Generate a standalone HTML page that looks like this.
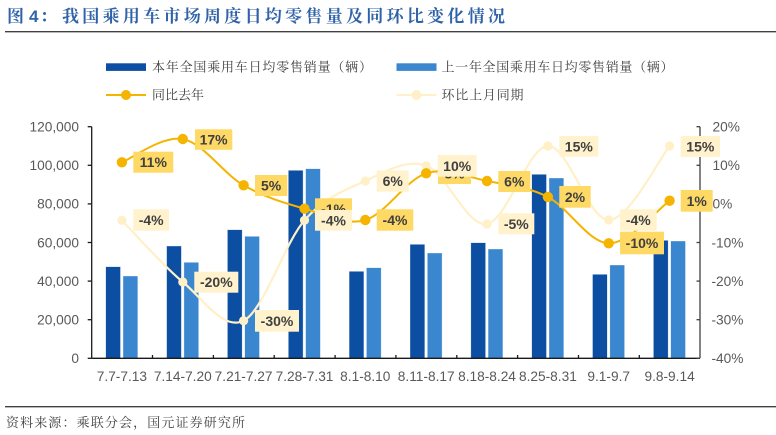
<!DOCTYPE html>
<html><head><meta charset="utf-8"><style>
html,body{margin:0;padding:0;background:#fff;}
svg{display:block;}
.t{font-family:"Liberation Sans",Arial,sans-serif;}
.c{font-family:"Liberation Serif","Noto Serif CJK SC",serif;}
.ax{font-family:"Liberation Sans",Arial,sans-serif;font-size:13.7px;fill:#595959;}
.lb{font-family:"Liberation Sans",Arial,sans-serif;font-size:14px;font-weight:bold;fill:#404040;}
</style></head><body>
<svg width="776" height="435" viewBox="0 0 776 435" xmlns="http://www.w3.org/2000/svg">
<rect width="776" height="435" fill="#fff"/>
<!-- title -->
<text x="7" y="22" class="c" font-size="17" font-weight="bold" fill="#2F62A8">图</text>
<text x="29" y="22" class="t" font-size="17" font-weight="bold" fill="#2F62A8">4</text>
<text x="40" y="22" class="c" font-size="17" font-weight="bold" fill="#2F62A8">：</text>
<text x="62" y="22" class="c" font-size="17" font-weight="bold" fill="#2F62A8" textLength="443" lengthAdjust="spacing">我国乘用车市场周度日均零售量及同环比变化情况</text>
<line x1="5" y1="31.7" x2="776" y2="31.7" stroke="#404040" stroke-width="1.3"/>

<!-- legend -->
<rect x="106" y="63.3" width="40" height="7.6" fill="#0B4EA2"/>
<text x="152" y="71.3" class="c" font-size="13" fill="#404040" textLength="220" lengthAdjust="spacing">本年全国乘用车日均零售销量（辆）</text>
<rect x="396.5" y="63.3" width="40" height="7.6" fill="#3A87CF"/>
<text x="441.5" y="71.3" class="c" font-size="13" fill="#404040" textLength="232" lengthAdjust="spacing">上一年全国乘用车日均零售销量（辆）</text>
<line x1="106" y1="95" x2="146" y2="95" stroke="#F5B400" stroke-width="2"/>
<circle cx="126" cy="95" r="5" fill="#F5B400"/>
<text x="152" y="99.5" class="c" font-size="13" fill="#404040" textLength="52" lengthAdjust="spacing">同比去年</text>
<line x1="396.5" y1="95" x2="436.5" y2="95" stroke="#FFF0C8" stroke-width="2"/>
<circle cx="416.5" cy="95" r="5" fill="#FFF0C8"/>
<text x="441.5" y="99.5" class="c" font-size="13" fill="#404040" textLength="82" lengthAdjust="spacing">环比上月同期</text>

<!-- bars -->
<g stroke="#ffffff" stroke-width="0.6" stroke-opacity="0.6">
<g fill="#0B4EA2">
<rect x="105.7" y="266.7" width="14.8" height="91.6"/>
<rect x="166.6" y="246" width="14.8" height="112.3"/>
<rect x="227.4" y="229.7" width="14.8" height="128.6"/>
<rect x="288.3" y="170.3" width="14.8" height="188"/>
<rect x="349.1" y="271.3" width="14.8" height="87"/>
<rect x="410" y="244.3" width="14.8" height="114"/>
<rect x="470.8" y="242.7" width="14.8" height="115.6"/>
<rect x="531.7" y="174.3" width="14.8" height="184"/>
<rect x="592.5" y="274.3" width="14.8" height="84"/>
<rect x="653.4" y="240.3" width="14.8" height="118"/>
</g>
<g fill="#3A87CF">
<rect x="123" y="276" width="14.8" height="82.3"/>
<rect x="183.9" y="262.3" width="14.8" height="96"/>
<rect x="244.7" y="236.3" width="14.8" height="122"/>
<rect x="305.6" y="168.7" width="14.8" height="189.6"/>
<rect x="366.4" y="267.7" width="14.8" height="90.6"/>
<rect x="427.3" y="253" width="14.8" height="105.3"/>
<rect x="488.1" y="249" width="14.8" height="109.3"/>
<rect x="549" y="178" width="14.8" height="180.3"/>
<rect x="609.8" y="265" width="14.8" height="93.3"/>
<rect x="670.7" y="241" width="14.8" height="117.3"/>
</g>
</g>

<!-- axes -->
<g stroke="#1a1a1a" stroke-width="1.3" fill="none">
<line x1="91.7" y1="126.7" x2="91.7" y2="358.3"/>
<line x1="91.7" y1="358.3" x2="700" y2="358.3"/>
<line x1="87.7" y1="126.7" x2="91.7" y2="126.7"/>
<line x1="87.7" y1="165.3" x2="91.7" y2="165.3"/>
<line x1="87.7" y1="203.9" x2="91.7" y2="203.9"/>
<line x1="87.7" y1="242.5" x2="91.7" y2="242.5"/>
<line x1="87.7" y1="281.1" x2="91.7" y2="281.1"/>
<line x1="87.7" y1="319.7" x2="91.7" y2="319.7"/>
<line x1="87.7" y1="358.3" x2="91.7" y2="358.3"/>
<line x1="152.5" y1="355" x2="152.5" y2="358.3"/>
<line x1="213.4" y1="355" x2="213.4" y2="358.3"/>
<line x1="274.2" y1="355" x2="274.2" y2="358.3"/>
<line x1="335.1" y1="355" x2="335.1" y2="358.3"/>
<line x1="395.9" y1="355" x2="395.9" y2="358.3"/>
<line x1="456.8" y1="355" x2="456.8" y2="358.3"/>
<line x1="517.6" y1="355" x2="517.6" y2="358.3"/>
<line x1="578.5" y1="355" x2="578.5" y2="358.3"/>
<line x1="639.3" y1="355" x2="639.3" y2="358.3"/>
</g>
<g stroke="#404040" stroke-width="1.3" fill="none">
<line x1="700" y1="126.7" x2="700" y2="358.3"/>
<line x1="696.5" y1="126.7" x2="700" y2="126.7"/>
<line x1="696.5" y1="165.3" x2="700" y2="165.3"/>
<line x1="696.5" y1="203.9" x2="700" y2="203.9"/>
<line x1="696.5" y1="242.5" x2="700" y2="242.5"/>
<line x1="696.5" y1="281.1" x2="700" y2="281.1"/>
<line x1="696.5" y1="319.7" x2="700" y2="319.7"/>
<line x1="696.5" y1="358.3" x2="700" y2="358.3"/>
</g>

<!-- left labels -->
<g class="ax" text-anchor="end">
<text x="79" y="131.5">120,000</text>
<text x="79" y="170.1">100,000</text>
<text x="79" y="208.7">80,000</text>
<text x="79" y="247.3">60,000</text>
<text x="79" y="285.9">40,000</text>
<text x="79" y="324.5">20,000</text>
<text x="79" y="363.1">0</text>
</g>
<!-- right labels -->
<g class="ax">
<text x="712.5" y="131.5">20%</text>
<text x="712.5" y="170.1">10%</text>
<text x="712.5" y="208.7">0%</text>
<text x="711.5" y="247.3">-10%</text>
<text x="711.5" y="285.9">-20%</text>
<text x="711.5" y="324.5">-30%</text>
<text x="711.5" y="363.1">-40%</text>
</g>
<!-- category labels -->
<g class="ax" text-anchor="middle">
<text x="121.9" y="381">7.7-7.13</text>
<text x="182.8" y="381">7.14-7.20</text>
<text x="243.6" y="381">7.21-7.27</text>
<text x="304.5" y="381">7.28-7.31</text>
<text x="365.3" y="381">8.1-8.10</text>
<text x="426.2" y="381">8.11-8.17</text>
<text x="487" y="381">8.18-8.24</text>
<text x="547.9" y="381">8.25-8.31</text>
<text x="608.7" y="381">9.1-9.7</text>
<text x="669.6" y="381">9.8-9.14</text>
</g>

<!-- MoM line (cream) -->
<path d="M121.9,220.3 C132,230.6 162.5,265.3 182.8,282 C203.1,298.7 223.3,331 243.6,320.7 C263.9,310.4 284.2,243.6 304.5,220.3 C324.8,197 345,190.1 365.3,181 C385.6,171.9 405.9,158.5 426.2,165.7 C446.5,172.9 466.7,227.3 487,224 C507.3,220.7 527.6,146.7 547.9,146 C568.2,145.3 588.4,220 608.7,220 C629,220 659.5,158.3 669.6,146" fill="none" stroke="#FFF0C8" stroke-width="2.2"/>
<g fill="#FFF0C8">
<circle cx="121.9" cy="220.3" r="4.6"/>
<circle cx="182.8" cy="282" r="4.6"/>
<circle cx="243.6" cy="320.7" r="4.6"/>
<circle cx="304.5" cy="220.3" r="4.6"/>
<circle cx="365.3" cy="181" r="4.6"/>
<circle cx="426.2" cy="165.7" r="4.6"/>
<circle cx="487" cy="224" r="4.6"/>
<circle cx="547.9" cy="146" r="4.6"/>
<circle cx="608.7" cy="220" r="4.6"/>
<circle cx="669.6" cy="146" r="4.6"/>
</g>

<!-- YoY line (gold) -->
<path d="M121.9,162.3 C132,158.4 162.5,135.2 182.8,139 C203.1,142.8 223.3,173.7 243.6,185.3 C263.9,196.9 284.2,202.9 304.5,208.7 C324.8,214.5 345,225.9 365.3,220 C385.6,214.1 405.9,179.8 426.2,173.3 C446.5,166.8 466.7,177 487,181 C507.3,185 527.6,186.6 547.9,197 C568.2,207.4 588.4,242.7 608.7,243.3 C629,243.9 659.5,207.8 669.6,200.7" fill="none" stroke="#F5B400" stroke-width="2"/>
<g fill="#F5B400">
<circle cx="121.9" cy="162.3" r="5.2"/>
<circle cx="182.8" cy="139" r="5.2"/>
<circle cx="243.6" cy="185.3" r="5.2"/>
<circle cx="304.5" cy="208.7" r="5.2"/>
<circle cx="365.3" cy="220" r="5.2"/>
<circle cx="426.2" cy="173.3" r="5.2"/>
<circle cx="487" cy="181" r="5.2"/>
<circle cx="547.9" cy="197" r="5.2"/>
<circle cx="608.7" cy="243.3" r="5.2"/>
<circle cx="669.6" cy="200.7" r="5.2"/>
</g>

<!-- YoY labels -->
<g>
<rect x="133.3" y="151.7" width="40" height="21" fill="#FFD966"/><text x="153.3" y="167.2" class="lb" text-anchor="middle">11%</text>
<rect x="195" y="129.3" width="37.3" height="20.5" fill="#FFD966"/><text x="213.6" y="144.5" class="lb" text-anchor="middle">17%</text>
<rect x="255" y="175" width="32.3" height="21" fill="#FFD966"/><text x="271.1" y="190.5" class="lb" text-anchor="middle">5%</text>
<rect x="315" y="198.3" width="37" height="21" fill="#FFD966"/><text x="333.5" y="213.8" class="lb" text-anchor="middle">-1%</text>
<rect x="376.7" y="209.3" width="36.6" height="21.4" fill="#FFD966"/><text x="395" y="225" class="lb" text-anchor="middle">-4%</text>
<rect x="438" y="163" width="33" height="21" fill="#FFD966"/><text x="454.5" y="178.5" class="lb" text-anchor="middle">8%</text>
<rect x="498.3" y="171" width="32" height="21" fill="#FFD966"/><text x="514.3" y="186.5" class="lb" text-anchor="middle">6%</text>
<rect x="559.3" y="186" width="31.4" height="21.7" fill="#FFD966"/><text x="575" y="201.8" class="lb" text-anchor="middle">2%</text>
<rect x="620" y="231.7" width="44" height="22.6" fill="#FFD966"/><text x="642" y="248" class="lb" text-anchor="middle">-10%</text>
<rect x="680.7" y="190" width="32" height="21.7" fill="#FFD966"/><text x="696.7" y="205.8" class="lb" text-anchor="middle">1%</text>
</g>
<!-- MoM labels -->
<g>
<rect x="133.3" y="209.3" width="35.7" height="21.4" fill="#FFF2CC"/><text x="151.2" y="225" class="lb" text-anchor="middle">-4%</text>
<rect x="194.3" y="271.7" width="44" height="21" fill="#FFF2CC"/><text x="216.3" y="287.2" class="lb" text-anchor="middle">-20%</text>
<rect x="255" y="310" width="44" height="21.7" fill="#FFF2CC"/><text x="277" y="325.8" class="lb" text-anchor="middle">-30%</text>
<rect x="315" y="210" width="37" height="20.7" fill="#FFF2CC"/><text x="333.5" y="225.4" class="lb" text-anchor="middle">-4%</text>
<rect x="376.7" y="170.5" width="32" height="21.2" fill="#FFF2CC"/><text x="392.7" y="186.1" class="lb" text-anchor="middle">6%</text>
<rect x="437.7" y="155" width="39" height="21.7" fill="#FFF2CC"/><text x="457.2" y="170.8" class="lb" text-anchor="middle">10%</text>
<rect x="498.3" y="213.3" width="36" height="21" fill="#FFF2CC"/><text x="516.3" y="228.8" class="lb" text-anchor="middle">-5%</text>
<rect x="559.3" y="136" width="39" height="20.7" fill="#FFF2CC"/><text x="578.8" y="151.4" class="lb" text-anchor="middle">15%</text>
<rect x="620" y="209.3" width="36.7" height="21.4" fill="#FFF2CC"/><text x="638.3" y="225" class="lb" text-anchor="middle">-4%</text>
<rect x="680.7" y="136" width="39.3" height="21" fill="#FFF2CC"/><text x="700.3" y="151.5" class="lb" text-anchor="middle">15%</text>
</g>

<!-- footer -->
<line x1="5" y1="406.7" x2="776" y2="406.7" stroke="#404040" stroke-width="1.3"/>
<text x="6" y="427" class="c" font-size="13" fill="#404040" textLength="239" lengthAdjust="spacing">资料来源：乘联分会，国元证券研究所</text>
</svg>
</body></html>
